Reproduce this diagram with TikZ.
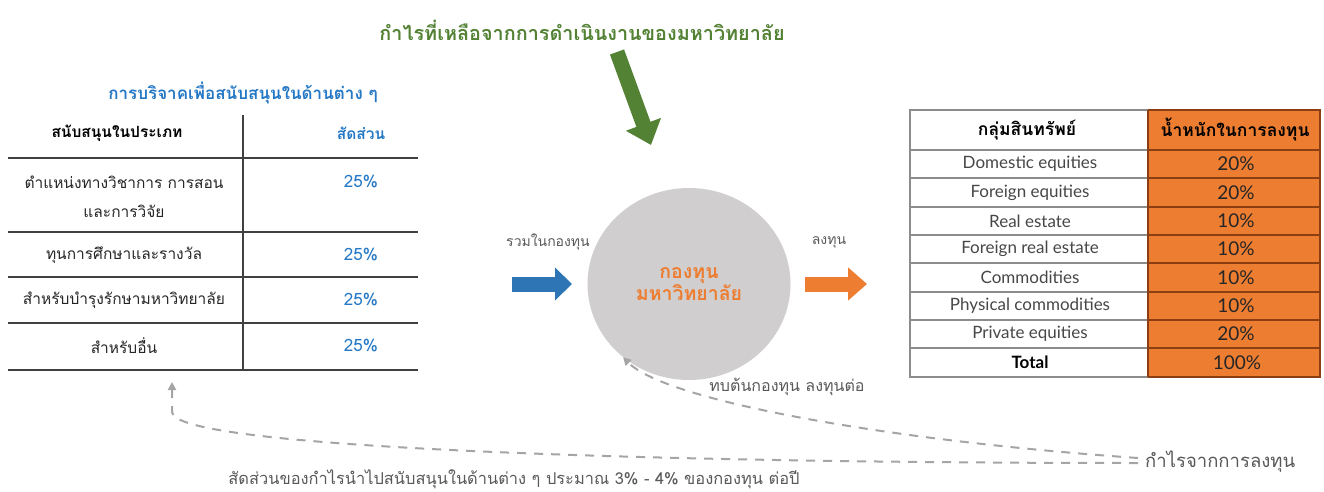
\documentclass[tikz,border=0pt]{standalone}
\usepackage{fontspec}
\setmainfont{Lato}
\newfontfamily\thai[Script=Thai]{Loma}
\usetikzlibrary{arrows.meta,shapes.geometric}
\definecolor{tgreen}{HTML}{548235}
\definecolor{tblue}{HTML}{2E75B6}
\definecolor{tbluetext}{HTML}{2478C5}
\definecolor{torange}{HTML}{ED7D31}
\definecolor{ttext}{HTML}{595959}
\definecolor{tcircle}{HTML}{D0CECE}
\definecolor{tdash}{HTML}{A5A5A5}
\definecolor{tline}{HTML}{404040}
\definecolor{tgrid}{HTML}{8C8C8C}
\definecolor{tbrown}{HTML}{8B3E12}
\definecolor{tdark}{HTML}{262626}
\tikzset{
  thaitxt/.style={font=\thai\fontsize{15.5}{18}\selectfont, text=tdark, inner sep=0pt},
  thaihead/.style={font=\thai\bfseries\fontsize{15.5}{18}\selectfont, text=black, inner sep=0pt},
  rthaihead/.style={font=\thai\bfseries\fontsize{17.5}{20}\selectfont, text=black, inner sep=0pt},
  pct/.style={font=\thai\fontsize{17}{20}\selectfont, text=tbluetext, inner sep=0pt},
  graylabel/.style={font=\thai\fontsize{14}{17}\selectfont, text=ttext, inner sep=0pt},
  engcell/.style={font=\fontsize{17}{20}\selectfont, text=tdark!85!white, inner sep=0pt},
  numcell/.style={font=\fontsize{19}{22}\selectfont, text=tdark, inner sep=0pt},
  fatarrow/.style={line width=15pt},
  dashline/.style={draw=tdash, line width=2pt, dash pattern=on 9pt off 8pt},
}
\begin{document}
\begin{tikzpicture}[x=1pt,y=-1pt]
\useasboundingbox[fill=white] (0,0) rectangle (1324,492);

% ---------- Title and green arrow ----------
\node[font=\thai\bfseries\fontsize{19.8}{23}\selectfont, text=tgreen, inner sep=0pt] (title) at (582,30) {กำไรที่เหลือจากการดำเนินงานของมหาวิทยาลัย};
\coordinate (gstart) at (617,52);
\coordinate (gend) at (651,145);
\draw[tgreen, fatarrow, -{Triangle[length=22pt,width=36pt]}] (gstart) -- (gend);

% ---------- Central fund ----------
\node[ellipse, fill=tcircle, minimum width=203pt, minimum height=192pt, inner sep=0pt] (fund) at (689,284) {};
\node[font=\thai\bfseries\fontsize{19.5}{21}\selectfont, text=torange, align=center, inner sep=0pt] (fundtxt) at (fund.center) {กองทุน\\มหาวิทยาลัย};

% blue in-arrow
\coordinate (bstart) at (512,284);
\coordinate (bend) at (572,284);
\draw[tblue, fatarrow, -{Triangle[length=17pt,width=32pt]}] (bstart) -- (bend);
\node[graylabel] (inlabel) at (548,242) {รวมในกองทุน};

% orange out-arrow
\coordinate (ostart) at (805,284);
\coordinate (oend) at (867,284);
\draw[torange, fatarrow, -{Triangle[length=19pt,width=32pt]}] (ostart) -- (oend);
\node[graylabel] (outlabel) at (829,242) {ลงทุน};

\node[graylabel, font=\thai\fontsize{16}{19}\selectfont] (reinvest) at (787,387) {ทบต้นกองทุน ลงทุนต่อ};

% ---------- Left table ----------
\node[font=\thai\bfseries\fontsize{17}{20}\selectfont, text=tbluetext, inner sep=0pt] (lefttitle) at (243,93) {การบริจาคเพื่อสนับสนุนในด้านต่าง ๆ};
\draw[tline, line width=1.6pt] (243,115) -- (243,370);
\foreach \yy in {158,232,277,323,370} {
  \draw[tline, line width=1.6pt] (8,\yy) -- (418,\yy);
}
\node[thaihead] (lh1) at (117,133) {สนับสนุนในประเภท};
\node[thaihead, text=tbluetext] (lh2) at (361,133) {สัดส่วน};
\node[thaitxt] (l1a) at (124,182) {ตำแหน่งทางวิชาการ การสอน};
\node[thaitxt] (l1b) at (124,211) {และการวิจัย};
\node[pct] (p1) at (361,182) {25\%};
\node[thaitxt] (l2) at (124,255) {ทุนการศึกษาและรางวัล};
\node[pct] (p2) at (361,255) {25\%};
\node[thaitxt] (l3) at (124,300) {สำหรับบำรุงรักษามหาวิทยาลัย};
\node[pct] (p3) at (361,300) {25\%};
\node[thaitxt] (l4) at (124,346) {สำหรับอื่น};
\node[pct] (p4) at (361,346) {25\%};

% ---------- Right table ----------
\fill[torange] (1148,110) rectangle (1320,377);
\foreach \yy in {150,178,207,235,263,292,320,348} {
  \draw[tgrid, line width=1.2pt] (910,\yy) -- (1148,\yy);
  \draw[tbrown, line width=1.2pt] (1148,\yy) -- (1320,\yy);
}
\draw[tgrid, line width=1.2pt] (1148,110) -- (910,110) -- (910,377) -- (1148,377);
\draw[tbrown, line width=1.2pt] (1148,110) -- (1320,110) -- (1320,377) -- (1148,377);
\draw[tbrown, line width=1.2pt] (1148,110) -- (1148,377);

\node[rthaihead] (rh1) at (1027,130) {กลุ่มสินทรัพย์};
\node[rthaihead] (rh2) at (1235,130) {น้ำหนักในการลงทุน};
\node[engcell] (r1) at (1030,164) {Domestic equities};
\node[numcell] (v1) at (1236,164) {20\%};
\node[engcell] (r2) at (1030,192.5) {Foreign equities};
\node[numcell] (v2) at (1236,192.5) {20\%};
\node[engcell] (r3) at (1030,221) {Real estate};
\node[numcell] (v3) at (1236,221) {10\%};
\node[engcell] (r4) at (1030,249) {Foreign real estate};
\node[numcell] (v4) at (1236,249) {10\%};
\node[engcell] (r5) at (1030,277.5) {Commodities};
\node[numcell] (v5) at (1236,277.5) {10\%};
\node[engcell] (r6) at (1030,306) {Physical commodities};
\node[numcell] (v6) at (1236,306) {10\%};
\node[engcell] (r7) at (1030,334) {Private equities};
\node[numcell] (v7) at (1236,334) {20\%};
\node[engcell, font=\bfseries\fontsize{17}{20}\selectfont, text=black] (r8) at (1030,362.5) {Total};
\node[numcell] (v8) at (1237,362.5) {100\%};

% ---------- Dashed return flows ----------
\node[graylabel, font=\thai\fontsize{18.5}{21}\selectfont, anchor=west] (profit) at (1145,462) {กำไรจากการลงทุน};
\coordinate (mergeU) at (1138,458);
\coordinate (mergeL) at (1138,463);
\coordinate (tipL) at (172,382);
\draw[dashline, -{Triangle[length=8pt,width=8pt]}] (mergeU) .. controls (880,440) and (665,400) .. (fund.228);
\draw[dashline, -{Triangle[length=8pt,width=8pt]}] (mergeL) .. controls (650,463) and (172,448) .. (172,412) -- (tipL);

\node[graylabel, font=\thai\fontsize{16.4}{19}\selectfont] (bottomtxt) at (514,479) {สัดส่วนของกำไรนำไปสนับสนุนในด้านต่าง ๆ ประมาณ 3\% - 4\% ของกองทุน ต่อปี};
\end{tikzpicture}
\end{document}
